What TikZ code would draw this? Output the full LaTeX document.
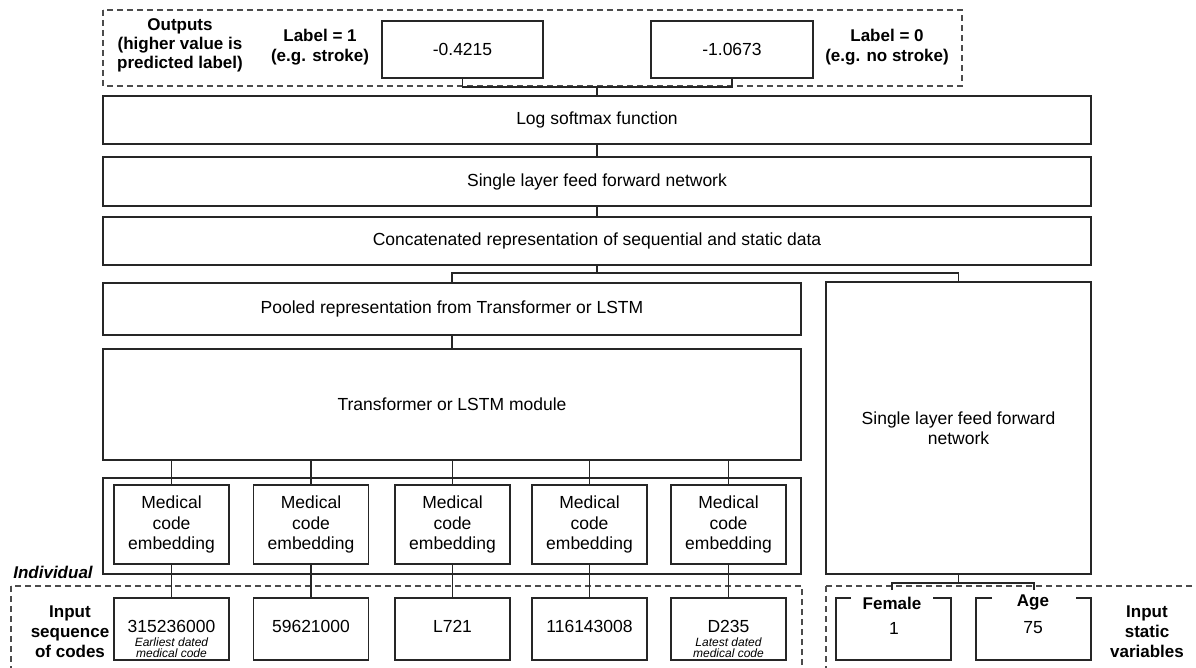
\documentclass[tikz,border=0pt]{standalone}
\usepackage{fontspec}
\setmainfont{Liberation Sans}
\begin{document}
\begin{tikzpicture}[x=1pt,y=-1pt,
  line width=1.4pt,
  box/.style={draw=black!85, line width=1.4pt, rectangle, inner sep=0pt, align=center,
    font=\fontsize{17.5}{20.5}\selectfont},
  txt/.style={inner sep=0pt, align=center, font=\fontsize{17.5}{20.5}\selectfont},
  btxt/.style={inner sep=0pt, align=center, font=\fontsize{17}{20}\selectfont\bfseries},
  note/.style={inner sep=0pt, align=center, font=\fontsize{12}{11}\selectfont\itshape},
  conn/.style={draw=black!85, line width=1.4pt},
  dashbox/.style={draw=black!70, line width=1.3pt, dash pattern=on 6pt off 4pt}
]
\useasboundingbox (0,0) rectangle (1196,668);

% ---------- outputs ----------
\draw[dashbox] (103,10) rectangle (962,86);
\node[btxt, font=\fontsize{17}{19}\selectfont\bfseries] (outlab) at (180,45.5) {Outputs\\(higher value is\\predicted label)};
\node[btxt] (lab1) at (320,47.5) {Label = 1\\(e.g. stroke)};
\node[btxt] (lab0) at (887,47.5) {Label = 0\\(e.g. no stroke)};
\node[box, minimum width=161pt, minimum height=57pt] (o1) at (462.5,49.5) {-0.4215};
\node[box, minimum width=162pt, minimum height=57pt] (o2) at (732,49.5) {-1.0673};

% ---------- main stack ----------
\node[box, minimum width=988pt, minimum height=48pt] (lsm) at (597,120) {Log softmax function};
\node[box, minimum width=988pt, minimum height=49pt] (ffn) at (597,181.5) {Single layer feed forward network};
\node[box, minimum width=988pt, minimum height=48pt] (cat) at (597,241) {Concatenated representation of sequential and static data};
\node[box, minimum width=698pt, minimum height=52pt] (pool) at (452,309) {Pooled representation from Transformer or LSTM};
\node[box, minimum width=698pt, minimum height=111pt] (trans) at (452,404.5) {Transformer or LSTM module};
\node[box, minimum width=698pt, minimum height=96pt] (cont) at (452,526) {};
\node[box, minimum width=265pt, minimum height=292pt] (sffn) at (958.5,428) {Single layer feed forward\\network};

% ---------- embeddings ----------
\foreach \i/\x in {1/171.5,2/311,3/452.5,4/589.5,5/728.5}{
  \node[box, minimum width=115pt, minimum height=79pt] (emb\i) at (\x,524.5) {Medical\\code\\embedding};
}

% ---------- individual ----------
\draw[dashbox] (11,586) rectangle (802,690);
\node[inner sep=0pt, font=\fontsize{17}{20}\selectfont\bfseries\itshape] (indiv) at (53,572) {Individual};
\node[btxt] (inseq) at (70,631.5) {Input\\sequence\\of codes};
\foreach \i/\x/\t in {1/171.5/315236000,2/311/59621000,3/452.5/L721,4/589.5/116143008,5/728.5/D235}{
  \node[box, minimum width=115pt, minimum height=62pt] (code\i) at (\x,629) {};
  \node[txt] (codet\i) at (\x,626) {\t};
}
\node[note] (note1) at (171.5,648) {Earliest dated\\medical code};
\node[note] (note5) at (728.5,648) {Latest dated\\medical code};

% ---------- static ----------
\draw[dashbox] (826,586) rectangle (1210,690);
\draw[conn] (851,598) -- (836,598) -- (836,660) -- (951,660) -- (951,598) -- (933,598);
\draw[conn] (992,598) -- (976,598) -- (976,660) -- (1091,660) -- (1091,598) -- (1076,598);
\node[btxt] (female) at (892,603) {Female};
\node[txt] (femval) at (894,628) {1};
\node[btxt] (age) at (1033,602) {Age};
\node[txt] (ageval) at (1033,628) {75};
\node[btxt] (instat) at (1147,631.5) {Input\\static\\variables};

% ---------- connectors ----------
\coordinate (jo) at (597,87);
\draw[conn] (o1.south) |- (jo) -| (o2.south);
\draw[conn] (jo) -- (lsm.north);
\draw[conn] (lsm.south) -- (ffn.north);
\draw[conn] (ffn.south) -- (cat.north);
\coordinate (jc) at (597,273);
\draw[conn] (cat.south) -- (jc);
\draw[conn] (pool.north) |- (jc) -| (sffn.north);
\draw[conn] (pool.south) -- (trans.north);
\foreach \i in {1,...,5}{
  \draw[conn] (trans.south -| emb\i.north) -- (emb\i.north);
  \draw[conn] (emb\i.south) -- (code\i.north);
}
\coordinate (js) at (958.5,583);
\coordinate (fem) at (892,590);
\coordinate (agec) at (1034,590);
\draw[conn] (sffn.south) -- (js);
\draw[conn] (fem) |- (js) -| (agec);
\end{tikzpicture}
\end{document}
